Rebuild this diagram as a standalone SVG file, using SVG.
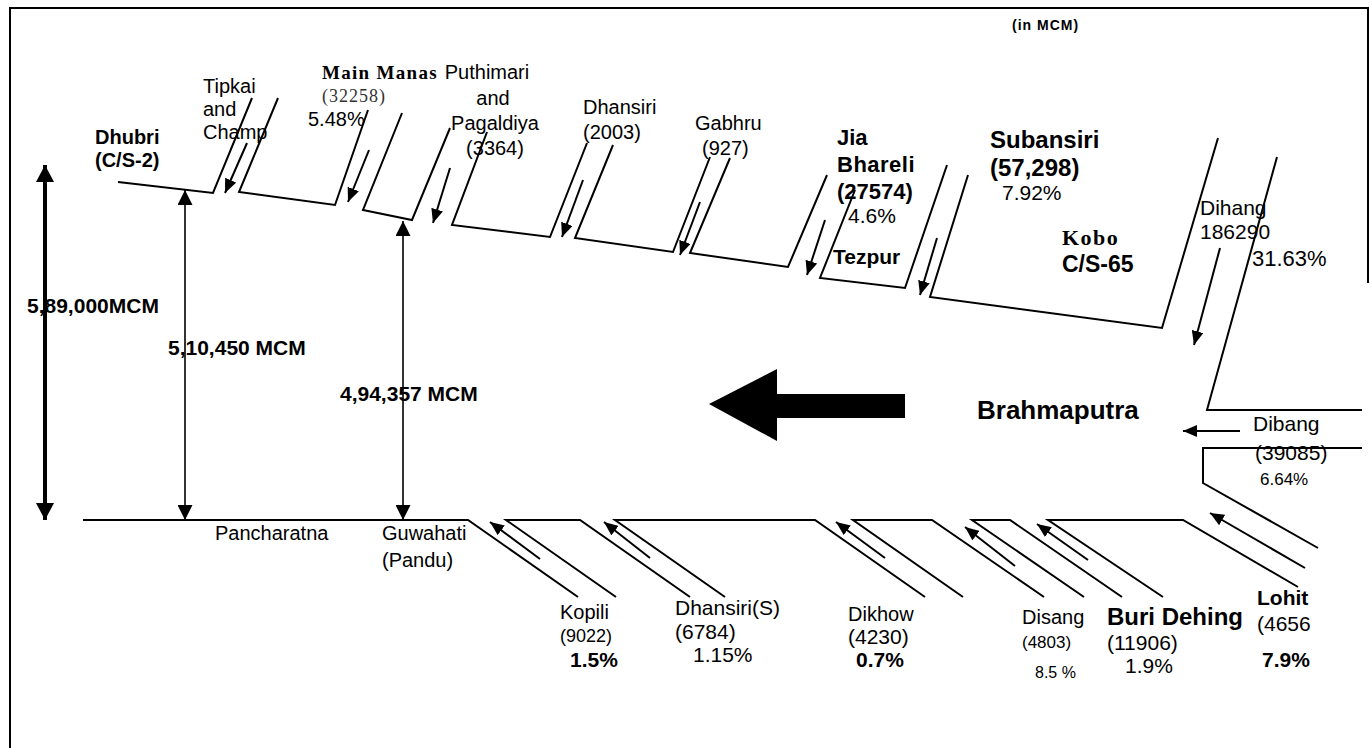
<svg xmlns="http://www.w3.org/2000/svg" width="1370" height="748" viewBox="0 0 1370 748">
<style>
.ln{fill:none;stroke:#000;stroke-width:2;stroke-linejoin:miter}
.ar{fill:none;stroke:#000;stroke-width:2;marker-end:url(#ah)}
.dv{fill:none;stroke:#000;stroke-width:1.6;marker-start:url(#ahv);marker-end:url(#ahv)}
text{font-family:"Liberation Sans",Arial,sans-serif;fill:#000;font-size:20px}
.b{font-weight:bold}
.sf{font-family:"Liberation Serif","Times New Roman",serif}
</style>
<defs>
<marker id="ah" viewBox="0 0 14 12" refX="14" refY="6" markerWidth="14" markerHeight="12" markerUnits="userSpaceOnUse" orient="auto-start-reverse"><path d="M0,0 L14,6 L0,12 z" fill="#000"/></marker>
<marker id="ahv" viewBox="0 0 15 15" refX="15" refY="7.5" markerWidth="15" markerHeight="15" markerUnits="userSpaceOnUse" orient="auto-start-reverse"><path d="M0,0 L15,7.5 L0,15 z" fill="#000"/></marker>
<marker id="ahb" viewBox="0 0 17 18" refX="17" refY="9" markerWidth="17" markerHeight="18" markerUnits="userSpaceOnUse" orient="auto-start-reverse"><path d="M0,0 L17,9 L0,18 z" fill="#000"/></marker>
</defs>
<rect width="1370" height="748" fill="#fff"/>
<g id="frame" class="ln">
<path d="M10,748 V8 H1368 V283"/>
</g>
<g id="connectors">
<g id="banks" class="ln">
<path d="M118,182 L213,193 L252,98"/>
<path d="M278,98 L239,192 L335,205 L368,110"/>
<path d="M402,113 L363,210 L412,220 L450,128"/>
<path d="M487,132 L452,225 L550,237 L587,143"/>
<path d="M613,145 L575,238 L673,252 L710,157"/>
<path d="M730,158 L690,253 L788,267 L827,175"/>
<path d="M855,190 L820,278 L905,288 L947,165"/>
<path d="M968,175 L930,297 L1162,328 L1218,138"/>
<path d="M1277,157 L1207,410 L1362,410"/>
<path d="M1362,448 L1203,448 L1203,483 L1318,548"/>
<path d="M83,520 L468,520 L578,597"/>
<path d="M616,597 L506,520 L580,520 L690,597"/>
<path d="M725,597 L615,520 L815,520 L925,597"/>
<path d="M963,597 L853,520 L932,520 L1044,597"/>
<path d="M1084,597 L972,520 L1010,520 L1122,597"/>
<path d="M1163,597 L1048,520 L1183,520 L1298,587"/>
</g>
<g id="inflows">
<path class="ar" d="M247,143 L225,193"/>
<path class="ar" d="M369,150 L348,202"/>
<path class="ar" d="M450,168 L433,223"/>
<path class="ar" d="M583,180 L562,237"/>
<path class="ar" d="M700,202 L680,255"/>
<path class="ar" d="M825,220 L807,275"/>
<path class="ar" d="M937,238 L920,295"/>
<path class="ar" d="M1220,248 L1194,345"/>
<path class="ar" d="M1240,431 L1183,431"/>
<path class="ar" d="M1305,568 L1210,513"/>
<path class="ar" d="M540,559 L490,522"/>
<path class="ar" d="M650,558 L604,522"/>
<path class="ar" d="M885,558 L836,522"/>
<path class="ar" d="M1015,566 L965,527"/>
<path class="ar" d="M1088,560 L1037,524"/>
</g>
<g id="flow-volumes">
<path d="M45,165 V520" fill="none" stroke="#000" stroke-width="4" marker-start="url(#ahb)" marker-end="url(#ahb)"/>
<path class="dv" d="M185,190 V520"/>
<path class="dv" d="M403,221 V520"/>
</g>
<path id="flow-arrow" d="M709,404 L777,369 L777,394 L905,394 L905,418 L777,418 L777,441 Z" fill="#000"/>
</g>
<text x="1012" y="30" class="b" style="font-size:14px;letter-spacing:1px">(in MCM)</text>
<g id="dhubri"><text x="95" y="144" class="b">Dhubri</text><text x="95" y="167" class="b">(C/S-2)</text></g>
<g id="tipkai"><text x="203" y="93">Tipkai</text><text x="203" y="116">and</text><text x="203" y="139">Champ</text></g>
<g id="main-manas"><text x="322" y="79" class="sf b" style="font-size:19px;letter-spacing:1.3px">Main Manas</text><text x="322" y="102" class="sf" style="font-size:18px;letter-spacing:1px;fill:#333">(32258)</text><text x="308" y="126">5.48%</text></g>
<g id="puthimari" style="text-anchor:middle"><text x="487" y="79">Puthimari</text><text x="493" y="105">and</text><text x="495" y="130">Pagaldiya</text><text x="495" y="155">(3364)</text></g>
<g id="dhansiri"><text x="583" y="114">Dhansiri</text><text x="583" y="139">(2003)</text></g>
<g id="gabhru"><text x="695" y="130">Gabhru</text><text x="702" y="155">(927)</text></g>
<g id="jia-bhareli"><text x="837" y="145" class="b" style="font-size:22px">Jia</text><text x="837" y="172" class="b" style="font-size:22px;letter-spacing:0.5px">Bhareli</text><text x="837" y="199" class="b" style="font-size:22px">(27574)</text><text x="848" y="223" style="font-size:21px">4.6%</text></g>
<g id="tezpur"><text x="833" y="264" class="b" style="font-size:21px">Tezpur</text></g>
<g id="subansiri"><text x="990" y="148" class="b" style="font-size:24px">Subansiri</text><text x="990" y="176" class="b" style="font-size:24px">(57,298)</text><text x="1002" y="200" style="font-size:21px">7.92%</text></g>
<g id="kobo"><text x="1062" y="245" class="sf b" style="font-size:22px;letter-spacing:1.5px">Kobo</text><text x="1062" y="272" class="b" style="font-size:23px">C/S-65</text></g>
<g id="dihang"><text x="1200" y="215" style="font-size:21px">Dihang</text><text x="1200" y="239" style="font-size:21px">186290</text><text x="1252" y="266" style="font-size:22px">31.63%</text></g>
<g id="brahmaputra"><text x="977" y="419" class="b" style="font-size:26px">Brahmaputra</text></g>
<g id="dibang"><text x="1253" y="431" style="font-size:21px">Dibang</text><text x="1255" y="460" style="font-size:21px">(39085)</text><text x="1260" y="485" style="font-size:17px">6.64%</text></g>
<g id="vol-labels"><text x="27" y="313" class="b" style="font-size:21px">5,89,000MCM</text><text x="168" y="355" class="b" style="font-size:21px">5,10,450 MCM</text><text x="340" y="401" class="b" style="font-size:21px">4,94,357 MCM</text></g>
<g id="pancharatna"><text x="215" y="540">Pancharatna</text></g>
<g id="guwahati"><text x="382" y="540">Guwahati</text><text x="382" y="567">(Pandu)</text></g>
<g id="kopili"><text x="560" y="619">Kopili</text><text x="560" y="642" style="font-size:18px">(9022)</text><text x="570" y="667" class="b" style="font-size:21px">1.5%</text></g>
<g id="dhansiri-s"><text x="675" y="615" style="font-size:21px">Dhansiri(S)</text><text x="675" y="639" style="font-size:21px">(6784)</text><text x="693" y="662" style="font-size:21px">1.15%</text></g>
<g id="dikhow"><text x="848" y="621">Dikhow</text><text x="848" y="644" style="font-size:21px">(4230)</text><text x="856" y="667" class="b" style="font-size:21px">0.7%</text></g>
<g id="disang"><text x="1022" y="624">Disang</text><text x="1022" y="648" style="font-size:17px">(4803)</text><text x="1035" y="678" style="font-size:16px">8.5 %</text></g>
<g id="buri-dehing"><text x="1107" y="625" class="b" style="font-size:24px">Buri Dehing</text><text x="1107" y="650" style="font-size:21px">(11906)</text><text x="1125" y="673" style="font-size:21px">1.9%</text></g>
<g id="lohit"><text x="1257" y="605" class="b" style="font-size:21px">Lohit</text><text x="1257" y="631" style="font-size:21px">(4656</text><text x="1262" y="667" class="b" style="font-size:21px">7.9%</text></g>
</svg>
